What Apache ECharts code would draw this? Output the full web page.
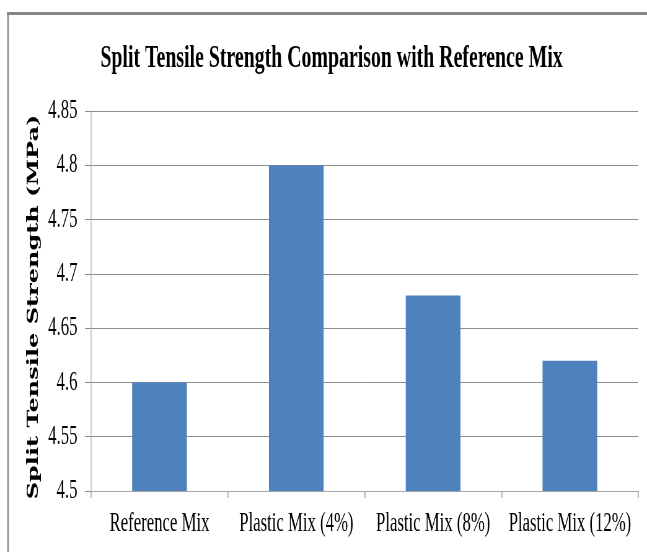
<!DOCTYPE html>
<html>
<head>
<meta charset="utf-8">
<script src="https://cdn.jsdelivr.net/npm/echarts@6/dist/echarts.min.js"></script>
<style>
  html, body { margin: 0; padding: 0; background: #fff; overflow: hidden; }
  /* The chart is laid out wide and narrowed horizontally, giving the condensed lettering */
  #wrap { width: 647px; height: 552px; overflow: hidden; }
  #chart { width: 1044px; height: 552px; transform: scaleX(0.6197); transform-origin: 0 0; }
</style>
</head>
<body>
<div id="wrap"><div id="chart"></div></div>
<script>
// Split tensile strength (MPa) per mix
const categories = ['Reference Mix', 'Plastic Mix (4%)', 'Plastic Mix (8%)', 'Plastic Mix (12%)'];
const strength = [4.6, 4.8, 4.68, 4.62];
const yTicks = [4.5, 4.55, 4.6, 4.65, 4.7, 4.75, 4.8, 4.85];

const titleText = 'Split Tensile Strength Comparison with Reference Mix';
const yName = 'Split Tensile Strength (MPa)';

const serif = "'Liberation Serif', 'Times New Roman', serif";

const chart = echarts.init(document.getElementById('chart'), null, { renderer: 'canvas' });

chart.setOption({
  animation: false,
  backgroundColor: '#ffffff',
  title: {
    text: titleText,
    left: 157,
    top: 38,
    textStyle: { fontFamily: serif, fontWeight: 'bold', fontSize: 32, color: '#000' }
  },
  grid: { left: 147, right: 14, top: 111, bottom: 61, containLabel: false },
  xAxis: {
    type: 'category',
    data: categories,
    axisLine: { lineStyle: { color: '#a6a6a6', width: 1 } },
    axisTick: { show: true, alignWithLabel: false, length: 7, lineStyle: { color: '#a6a6a6', width: 1.6 } },
    axisLabel: { interval: 0, color: '#000', fontFamily: serif, fontSize: 27, margin: 19 }
  },
  yAxis: {
    type: 'value',
    min: yTicks[0],
    max: yTicks[yTicks.length - 1],
    interval: 0.05,
    name: yName,
    nameLocation: 'middle',
    nameGap: 75,
    nameTextStyle: {
      fontFamily: "'DejaVu Serif', serif", fontWeight: 'bold', fontSize: 24, color: '#000',
      padding: [0, 12, 0, 0]
    },
    axisLine: { show: true, lineStyle: { color: '#bfbfbf', width: 1.6 } },
    axisTick: { show: true, length: 10, lineStyle: { color: '#8c8c8c', width: 1 } },
    splitLine: { lineStyle: { color: '#8c8c8c', width: 1 } },
    axisLabel: { color: '#000', fontFamily: serif, fontSize: 27, margin: 22 }
  },
  series: [{
    type: 'bar',
    data: strength,
    barWidth: '40%',
    itemStyle: { color: '#4f81bd' }
  }],
  graphic: [
    {
      type: 'line',
      shape: { x1: 12.9, y1: 13, x2: 12.9, y2: 560 },
      style: { stroke: '#8a8a8a', lineWidth: 2.6 },
      silent: true
    },
    {
      type: 'line',
      shape: { x1: 11, y1: 13.5, x2: 1060, y2: 13.5 },
      style: { stroke: '#868686', lineWidth: 3 },
      silent: true
    }
  ]
});
</script>
</body>
</html>
